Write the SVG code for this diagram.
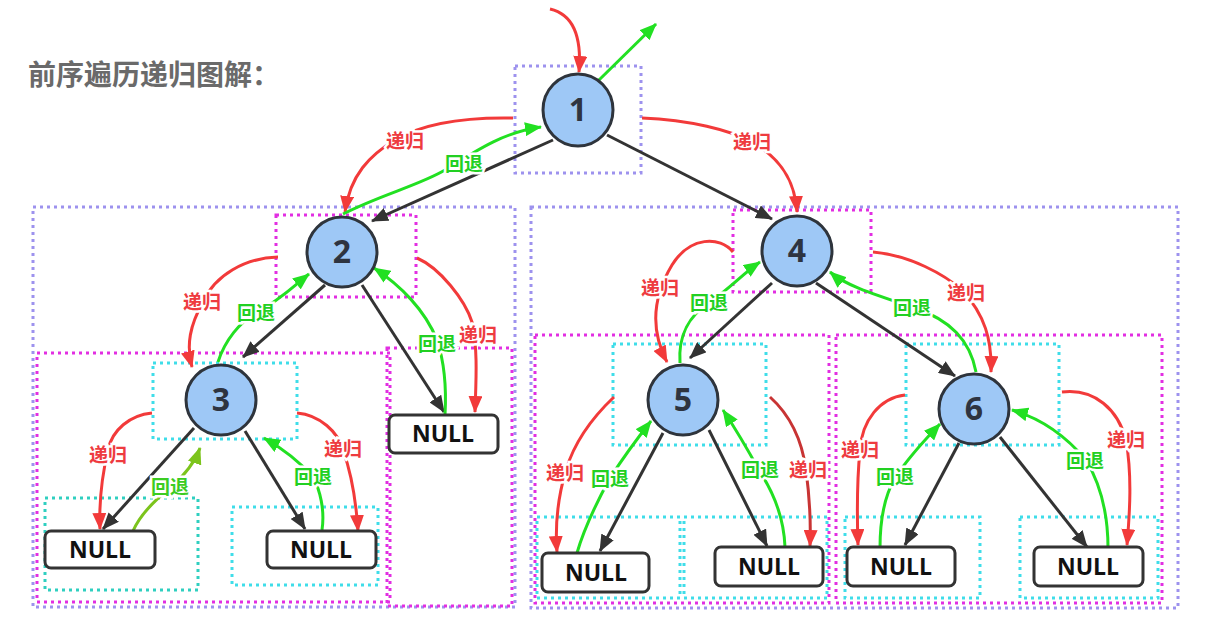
<svg xmlns="http://www.w3.org/2000/svg" width="1207" height="618" viewBox="0 0 1207 618">
<style>
.bg{fill:#fff}
.title{font-family:"Noto Sans CJK SC","Noto Sans",sans-serif;font-weight:bold;font-size:28px;fill:#6a6a6a}
.box{fill:none;stroke-width:3;stroke-dasharray:3 4}
.lav{stroke:#9d92ee}
.mag{stroke:#e22ee2}
.cya{stroke:#3fdde9}
.tea{stroke:#2fcfc0}
.circ{fill:#9ec8f6;stroke:#2e343c;stroke-width:3}
.num{font-family:"Open Sans","DejaVu Sans",sans-serif;font-weight:bold;font-size:32px;fill:#2e3440;text-anchor:middle}
.nbox{fill:#fff;stroke:#333;stroke-width:3}
.ntxt{font-family:"Open Sans","DejaVu Sans",sans-serif;font-weight:bold;font-size:23px;fill:#111;text-anchor:middle}
.edge{fill:none;stroke:#333;stroke-width:3;marker-end:url(#ab)}
.red{fill:none;stroke:#f23a3a;stroke-width:3;marker-end:url(#ar)}
.grn{fill:none;stroke:#22e022;stroke-width:3;marker-end:url(#ag)}
.ylg{fill:none;stroke:#7cc41c;stroke-width:3;marker-end:url(#ay)}
.lr{font-family:"Noto Sans CJK SC",sans-serif;font-weight:bold;font-size:19px;fill:#ee3b3f;text-anchor:middle;stroke:#fff;stroke-width:5;paint-order:stroke}
.lg{font-family:"Noto Sans CJK SC",sans-serif;font-weight:bold;font-size:19px;fill:#22d022;text-anchor:middle;stroke:#fff;stroke-width:5;paint-order:stroke}
</style>
<defs>
<marker id="ab" markerUnits="userSpaceOnUse" markerWidth="18" markerHeight="14" refX="16" refY="7" orient="auto"><path d="M0,0 L17,7 L0,14 z" fill="#333"/></marker>
<marker id="ar" markerUnits="userSpaceOnUse" markerWidth="18" markerHeight="14" refX="16" refY="7" orient="auto"><path d="M0,0 L17,7 L0,14 z" fill="#f23a3a"/></marker>
<marker id="ag" markerUnits="userSpaceOnUse" markerWidth="18" markerHeight="14" refX="16" refY="7" orient="auto"><path d="M0,0 L17,7 L0,14 z" fill="#22e022"/></marker>
<marker id="ay" markerUnits="userSpaceOnUse" markerWidth="18" markerHeight="14" refX="16" refY="7" orient="auto"><path d="M0,0 L17,7 L0,14 z" fill="#7cc41c"/></marker>
</defs>
<rect class="bg" x="0" y="0" width="1207" height="618"/>
<text class="title" x="28" y="85">前序遍历递归图解：</text>

<g id="frames">
<rect class="box lav" x="515" y="66" width="126" height="107"/>
<rect class="box lav" x="33" y="207" width="482" height="400"/>
<rect class="box lav" x="531" y="207" width="647" height="401"/>
<rect class="box mag" x="276" y="215" width="140" height="82"/>
<rect class="box mag" x="733" y="210" width="138" height="82"/>
<rect class="box mag" x="37" y="353" width="353" height="249"/>
<rect class="box mag" x="387" y="348" width="125" height="258"/>
<rect class="box mag" x="535" y="335" width="294" height="268"/>
<rect class="box mag" x="836" y="335" width="326" height="268"/>
<rect class="box cya" x="153" y="363" width="144" height="76"/>
<rect class="box tea" x="45" y="498" width="153" height="92"/>
<rect class="box cya" x="232" y="507" width="146" height="78"/>
<rect class="box cya" x="613" y="344" width="153" height="101"/>
<rect class="box cya" x="906" y="344" width="153" height="101"/>
<rect class="box cya" x="537" y="517" width="143" height="81"/>
<rect class="box cya" x="684" y="517" width="143" height="81"/>
<rect class="box cya" x="845" y="517" width="135" height="81"/>
<rect class="box cya" x="1020" y="517" width="138" height="81"/>
</g>

<g id="connectors">
<path class="edge" d="M553 140 L372 221"/>
<path class="edge" d="M607 135 L772 219"/>
<path class="edge" d="M325 285 L243 357"/>
<path class="edge" d="M362 285 L444 412"/>
<path class="edge" d="M194 428 L103 529"/>
<path class="edge" d="M245 431 L305 529"/>
<path class="edge" d="M772 283 L690 358"/>
<path class="edge" d="M816 283 L955 376"/>
<path class="edge" d="M663 433 L600 551"/>
<path class="edge" d="M709 430 L767 546"/>
<path class="edge" d="M959 443 L905 545"/>
<path class="edge" d="M1000 437 L1087 547"/>

<path class="red" d="M550 9 C572 14 582 35 579 72"/>
<path class="grn" d="M599 80 L656 24"/>
<path class="red" d="M513 118 C460 117 420 125 395 140 C370 155 350 175 345 212"/>
<path class="grn" d="M343 214 C380 195 420 185 445 170 C480 148 505 132 541 127"/>
<path class="red" d="M642 118 C690 120 730 130 752 142 C780 158 795 180 797 212"/>

<path class="red" d="M278 257 C245 258 215 275 203 302 C190 325 186 345 192 367"/>
<path class="grn" d="M218 362 C225 340 240 322 256 313 C280 300 295 285 309 274"/>
<path class="red" d="M417 258 C440 268 465 300 472 322 C478 350 476 380 475 412"/>
<path class="grn" d="M445 415 C447 380 442 355 437 340 C425 310 400 285 374 268"/>

<path class="red" d="M152 413 C130 415 112 430 108 450 C101 480 99 505 100 529"/>
<path class="ylg" d="M133 531 C140 515 155 500 170 488 C185 475 195 462 200 448"/>
<path class="red" d="M297 413 C320 415 338 432 343 450 C352 475 356 500 358 531"/>
<path class="grn" d="M322 530 C325 510 320 490 313 477 C300 462 285 450 264 438"/>

<path class="red" d="M733 252 C720 236 690 236 672 265 C660 285 645 320 667 362"/>
<path class="grn" d="M680 363 C678 335 690 315 709 303 C730 288 745 272 760 262"/>
<path class="red" d="M873 252 C910 255 945 275 962 290 C985 315 992 340 991 372"/>
<path class="grn" d="M976 372 C970 340 950 320 915 308 C870 293 845 285 830 272"/>

<path class="red" d="M614 397 C595 415 575 440 566 470 C557 500 555 525 557 552"/>
<path class="grn" d="M577 553 C585 525 598 500 610 478 C625 455 640 435 651 421"/>
<path class="red" d="M770 397 C790 415 802 440 806 470 C810 500 811 520 810 546" style="stroke:#c83434"/>
<path class="grn" d="M785 547 C784 520 775 495 760 472 C748 450 735 428 723 410"/>

<path class="red" d="M905 395 C880 398 862 420 860 450 C857 480 857 515 858 545"/>
<path class="grn" d="M880 548 C880 520 885 495 895 478 C910 455 925 440 940 424"/>
<path class="red" d="M1062 392 C1095 388 1118 410 1126 440 C1132 475 1130 510 1127 545"/>
<path class="grn" d="M1108 548 C1108 510 1098 480 1086 460 C1065 435 1040 418 1012 410"/>

<text class="lr" x="405" y="148">递归</text>
<text class="lg" x="464" y="171">回退</text>
<text class="lr" x="752" y="149">递归</text>
<text class="lr" x="202" y="309">递归</text>
<text class="lg" x="256" y="320">回退</text>
<text class="lg" x="437" y="351">回退</text>
<text class="lr" x="478" y="342">递归</text>
<text class="lr" x="108" y="462">递归</text>
<text class="lg" x="170" y="494" style="fill:#3ccc22">回退</text>
<text class="lr" x="343" y="456">递归</text>
<text class="lg" x="313" y="484">回退</text>
<text class="lr" x="660" y="295">递归</text>
<text class="lg" x="709" y="310">回退</text>
<text class="lr" x="966" y="300">递归</text>
<text class="lg" x="912" y="315">回退</text>
<text class="lr" x="565" y="480">递归</text>
<text class="lg" x="610" y="486">回退</text>
<text class="lg" x="760" y="477">回退</text>
<text class="lr" x="808" y="477">递归</text>
<text class="lr" x="860" y="457">递归</text>
<text class="lg" x="895" y="484">回退</text>
<text class="lr" x="1126" y="447">递归</text>
<text class="lg" x="1085" y="468">回退</text>
</g>

<g id="n1"><ellipse class="circ" cx="578" cy="110" rx="35" ry="36"/><text class="num" x="578" y="121">1</text></g>
<g id="n2"><circle class="circ" cx="342" cy="252" r="35"/><text class="num" x="342" y="263">2</text></g>
<g id="n3"><circle class="circ" cx="221" cy="400" r="35"/><text class="num" x="221" y="411">3</text></g>
<g id="n4"><circle class="circ" cx="797" cy="251" r="35"/><text class="num" x="797" y="262">4</text></g>
<g id="n5"><circle class="circ" cx="683" cy="400" r="35"/><text class="num" x="683" y="411">5</text></g>
<g id="n6"><circle class="circ" cx="974" cy="409" r="35"/><text class="num" x="974" y="420">6</text></g>
<g id="null3l"><rect class="nbox" x="45" y="531" width="110" height="37" rx="6"/><text class="ntxt" x="100" y="558">NULL</text></g>
<g id="null3r"><rect class="nbox" x="267" y="531" width="109" height="37" rx="6"/><text class="ntxt" x="321" y="558">NULL</text></g>
<g id="null2r"><rect class="nbox" x="389" y="415" width="109" height="38" rx="6"/><text class="ntxt" x="443" y="442">NULL</text></g>
<g id="null5l"><rect class="nbox" x="542" y="553" width="107" height="39" rx="6"/><text class="ntxt" x="596" y="581">NULL</text></g>
<g id="null5r"><rect class="nbox" x="715" y="547" width="108" height="39" rx="6"/><text class="ntxt" x="769" y="575">NULL</text></g>
<g id="null6l"><rect class="nbox" x="847" y="547" width="108" height="39" rx="6"/><text class="ntxt" x="901" y="575">NULL</text></g>
<g id="null6r"><rect class="nbox" x="1034" y="547" width="109" height="39" rx="6"/><text class="ntxt" x="1088" y="575">NULL</text></g>
</svg>
